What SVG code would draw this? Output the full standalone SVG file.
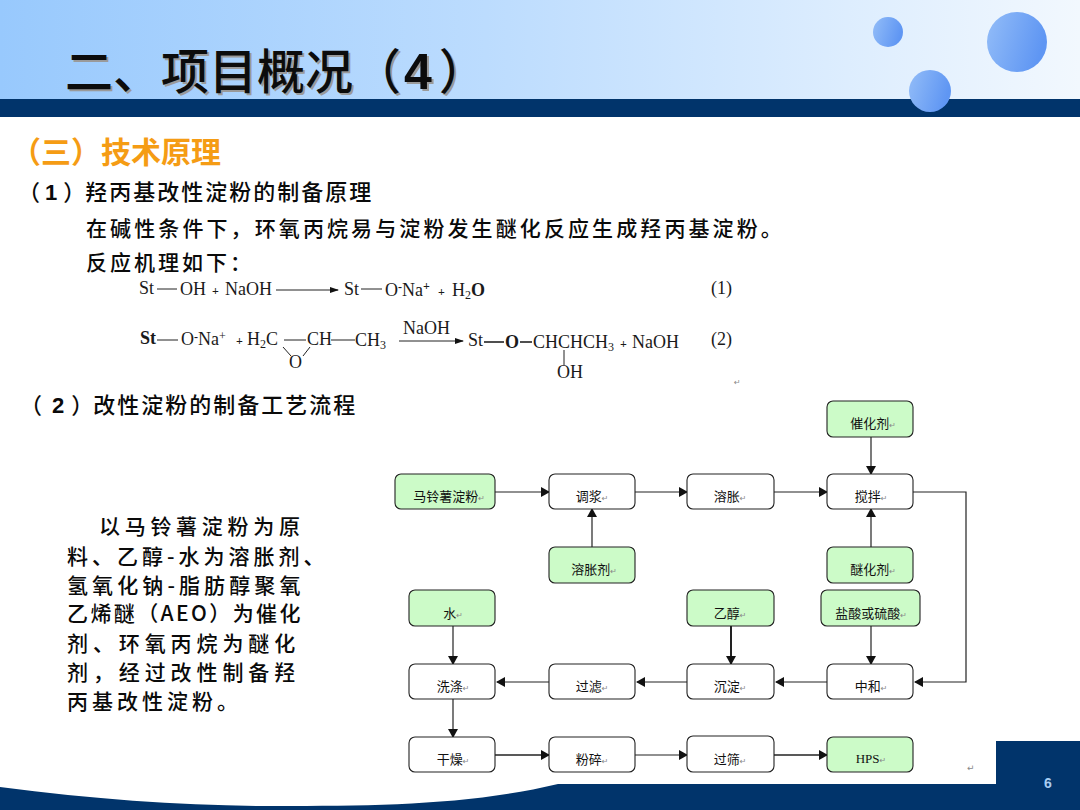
<svg xmlns="http://www.w3.org/2000/svg" width="1080" height="810" viewBox="0 0 1080 810">
<style>
.cjk{font-family:"Noto Sans CJK SC","Noto Sans",sans-serif}
.body{font-family:"Noto Sans CJK SC","Noto Sans",sans-serif;font-size:21px;fill:#0a0a0a;font-weight:500}
.lat{font-family:"Liberation Sans",sans-serif;font-weight:bold}
.f{font-family:"Liberation Serif","Noto Sans CJK SC",serif;font-size:18px;fill:#1a1a1a}
.bd{font-weight:bold}
.sub{font-size:12px}
.pl{font-size:12px;font-weight:bold}
.n rect{stroke:#222;stroke-width:1.1}
.w rect{fill:#fff}
.g rect{fill:#ccfbc8}
.n text{font-family:"Noto Sans CJK SC","Noto Sans",sans-serif;font-size:13px;fill:#111;text-anchor:middle}
.n .hps{font-family:"Liberation Serif",serif}
.r{font-family:"DejaVu Sans",sans-serif;font-size:8px;fill:#888}
.c line,.c polyline{stroke:#222;stroke-width:1.2;fill:none;marker-end:url(#a)}
.b{stroke:#222;stroke-width:1;fill:none}
.bb{stroke:#222;stroke-width:1.6;fill:none}
</style>
<defs>
<linearGradient id="hd" x1="0" x2="1" y1="0" y2="0"><stop offset="0" stop-color="#98c9fd"/><stop offset="0.45" stop-color="#bcdcfe"/><stop offset="1" stop-color="#f2f8fe"/></linearGradient>
<linearGradient id="bl" x1="0" x2="1" y1="0" y2="0.3"><stop offset="0" stop-color="#93bdf8"/><stop offset="1" stop-color="#5f96f3"/></linearGradient>
<marker id="a" markerUnits="userSpaceOnUse" markerWidth="9" markerHeight="10" refX="8" refY="5" orient="auto"><path d="M0 0L9 5L0 10Z" fill="#111"/></marker>
<marker id="fa" markerUnits="userSpaceOnUse" markerWidth="9" markerHeight="6" refX="8" refY="3" orient="auto"><path d="M0 0L9 3L0 6Z" fill="#111"/></marker>
</defs>

<rect x="0" y="0" width="1080" height="99" fill="url(#hd)"/>
<rect x="0" y="99" width="1080" height="18" fill="#01346b"/>
<circle cx="888" cy="32" r="15" fill="url(#bl)"/>
<circle cx="1017" cy="42" r="30" fill="url(#bl)"/>
<circle cx="930" cy="91" r="21" fill="url(#bl)"/>

<path d="M0 787C100 800 190 806 275 806C380 806 470 805 558 784L996 784L996 741L1080 741L1080 810L0 810Z" fill="#01346b"/>
<text x="1048" y="788" font-family="Liberation Sans,sans-serif" font-size="14" font-weight="bold" fill="#a9cdf2" text-anchor="middle">6</text>

<text x="65" y="89" font-size="48" class="cjk" fill="#9a9a9a" transform="translate(2 2)" font-weight="500">二、项目概况（<tspan class="lat" dx="3" font-size="50">4</tspan><tspan dx="7">）</tspan></text>
<text x="65" y="89" font-size="48" class="cjk" fill="#0c0c0c" font-weight="500">二、项目概况（<tspan class="lat" dx="3" font-size="50">4</tspan><tspan dx="7">）</tspan></text>

<text x="11" y="163" font-size="30" class="cjk" font-weight="700" fill="#f59c14">（三）技术原理</text>
<text x="18" y="200" class="body" style="font-size:22px">（<tspan class="lat" dx="5">1</tspan><tspan dx="6">）</tspan><tspan letter-spacing="2">羟丙基改性淀粉的制备原理</tspan></text>
<text x="86" y="236" class="body" letter-spacing="3.1">在碱性条件下，环氧丙烷易与淀粉发生醚化反应生成羟丙基淀粉。</text>
<text x="86" y="270" class="body" letter-spacing="3">反应机理如下：</text>
<text x="20" y="413" class="body" style="font-size:22px">（<tspan class="lat" dx="10">2</tspan><tspan dx="7">）</tspan><tspan letter-spacing="2">改性淀粉的制备工艺流程</tspan></text>

<g class="body">
<text x="99" y="534" letter-spacing="4.7">以马铃薯淀粉为原</text>
<text x="67" y="564" letter-spacing="4">料、乙醇-水为溶胀剂、</text>
<text x="67" y="593" letter-spacing="4.1">氢氧化钠-脂肪醇聚氧</text>
<text x="67" y="621" letter-spacing="2.4">乙烯醚（AEO）为催化</text>
<text x="67" y="651" letter-spacing="4.9">剂、环氧丙烷为醚化</text>
<text x="67" y="680" letter-spacing="4.9">剂，经过改性制备羟</text>
<text x="67" y="709" letter-spacing="4">丙基改性淀粉。</text>
</g>

<g id="formula1">
<text class="f" x="139" y="294">St</text><line class="b" x1="157" y1="289" x2="177" y2="289"/>
<text class="f" x="180" y="295">OH</text><text class="f pl" x="212" y="295">+</text><text class="f" x="225" y="295">NaOH</text>
<line class="b" x1="276" y1="290" x2="338" y2="290" marker-end="url(#fa)"/>
<text class="f" x="344" y="295">St</text><line class="b" x1="361" y1="289" x2="382" y2="289"/>
<text class="f" x="385" y="296">O<tspan class="sub bd" dy="-5">-</tspan><tspan dy="5">Na</tspan><tspan class="sub bd" dy="-6">+</tspan></text>
<text class="f pl" x="438" y="296">+</text>
<text class="f" x="452" y="296">H<tspan class="sub" dy="3">2</tspan><tspan dy="-3" class="bd">O</tspan></text>
<text class="f" x="711" y="294">(1)</text>
</g>
<g id="formula2">
<text class="f bd" x="140" y="344">St</text><line class="b" x1="157" y1="340" x2="178" y2="340"/>
<text class="f" x="181" y="345">O<tspan class="sub bd" dy="-4">-</tspan><tspan dy="4">Na</tspan><tspan class="sub" dy="-5">+</tspan></text>
<text class="f pl" x="236" y="345">+</text>
<text class="f" x="247" y="345">H<tspan class="sub" dy="3">2</tspan><tspan dy="-3">C</tspan></text>
<line class="b" x1="284" y1="340" x2="306" y2="340"/>
<text class="f" x="307" y="345">CH</text><line class="b" x1="331" y1="340" x2="355" y2="340"/>
<text class="f" x="355" y="346">CH<tspan class="sub" dy="3">3</tspan></text>
<line class="b" x1="283" y1="347" x2="291" y2="356"/><line class="b" x1="310" y1="347" x2="303" y2="356"/>
<text class="f" x="289" y="368">O</text>
<text class="f" x="403" y="334">NaOH</text>
<line class="b" x1="399" y1="341" x2="463" y2="341" marker-end="url(#fa)"/>
<text class="f" x="468" y="346">St</text><line class="bb" x1="484" y1="342" x2="504" y2="342"/>
<text class="f" x="505" y="348" font-weight="bold">O</text><line class="bb" x1="520" y1="342" x2="532" y2="342"/>
<text class="f" x="533" y="348">CHCHCH<tspan class="sub" dy="3">3</tspan></text>
<text class="f pl" x="620" y="348">+</text>
<text class="f" x="632" y="348">NaOH</text>
<line class="b" x1="564" y1="350" x2="564" y2="365"/>
<text class="f" x="557" y="378">OH</text>
<text class="f" x="711" y="345">(2)</text>
</g>
<text class="r" x="734" y="385">↵</text>

<g id="connectors" class="c">
<line x1="495" y1="492" x2="549" y2="492"/>
<line x1="635" y1="492" x2="687" y2="492"/>
<line x1="774" y1="492" x2="827" y2="492"/>
<line x1="871" y1="437" x2="871" y2="474"/>
<line x1="592" y1="547" x2="592" y2="509"/>
<line x1="871" y1="547" x2="871" y2="509"/>
<polyline points="913,492 966,492 966,682 915,682"/>
<line x1="871" y1="626" x2="871" y2="664"/>
<line x1="731" y1="626" x2="731" y2="664" style="stroke-width:2"/>
<line x1="453" y1="626" x2="453" y2="664"/>
<line x1="827" y1="682" x2="776" y2="682"/>
<line x1="687" y1="682" x2="637" y2="682"/>
<line x1="549" y1="682" x2="497" y2="682"/>
<line x1="453" y1="699" x2="453" y2="737"/>
<line x1="495" y1="755" x2="549" y2="755" style="stroke-width:1.6"/>
<line x1="635" y1="755" x2="687" y2="755"/>
<line x1="774" y1="755" x2="827" y2="755" style="stroke-width:1.6"/>
</g>

<g id="n1" class="n g"><rect x="395" y="474" width="100" height="35" rx="6"/><text x="449" y="501">马铃薯淀粉<tspan class="r">↵</tspan></text></g>
<g id="n2" class="n w"><rect x="549" y="474" width="86" height="35" rx="6"/><text x="592" y="501">调浆<tspan class="r">↵</tspan></text></g>
<g id="n3" class="n w"><rect x="687" y="474" width="87" height="35" rx="6"/><text x="730" y="501">溶胀<tspan class="r">↵</tspan></text></g>
<g id="n4" class="n w"><rect x="827" y="474" width="86" height="35" rx="6"/><text x="871" y="501">搅拌<tspan class="r">↵</tspan></text></g>
<g id="n5" class="n g"><rect x="827" y="401" width="86" height="36" rx="6"/><text x="873" y="428">催化剂<tspan class="r">↵</tspan></text></g>
<g id="n6" class="n g"><rect x="549" y="547" width="86" height="36" rx="6"/><text x="594" y="574">溶胀剂<tspan class="r">↵</tspan></text></g>
<g id="n7" class="n g"><rect x="827" y="547" width="86" height="36" rx="6"/><text x="873" y="574">醚化剂<tspan class="r">↵</tspan></text></g>
<g id="n8" class="n g"><rect x="409" y="590" width="86" height="36" rx="6"/><text x="453" y="618">水<tspan class="r">↵</tspan></text></g>
<g id="n9" class="n g"><rect x="687" y="590" width="87" height="36" rx="6"/><text x="730" y="618">乙醇<tspan class="r">↵</tspan></text></g>
<g id="n10" class="n g"><rect x="821" y="590" width="99" height="36" rx="6"/><text x="871" y="618">盐酸或硫酸<tspan class="r">↵</tspan></text></g>
<g id="n11" class="n w"><rect x="409" y="664" width="86" height="35" rx="6"/><text x="453" y="691">洗涤<tspan class="r">↵</tspan></text></g>
<g id="n12" class="n w"><rect x="549" y="664" width="86" height="35" rx="6"/><text x="592" y="691">过滤<tspan class="r">↵</tspan></text></g>
<g id="n13" class="n w"><rect x="687" y="664" width="87" height="35" rx="6"/><text x="730" y="691">沉淀<tspan class="r">↵</tspan></text></g>
<g id="n14" class="n w"><rect x="827" y="664" width="86" height="35" rx="6"/><text x="871" y="691">中和<tspan class="r">↵</tspan></text></g>
<g id="n15" class="n w"><rect x="409" y="737" width="86" height="35" rx="6"/><text x="453" y="764">干燥<tspan class="r">↵</tspan></text></g>
<g id="n16" class="n w"><rect x="549" y="737" width="86" height="35" rx="6"/><text x="592" y="764">粉碎<tspan class="r">↵</tspan></text></g>
<g id="n17" class="n w"><rect x="687" y="736" width="87" height="36" rx="6"/><text x="730" y="764">过筛<tspan class="r">↵</tspan></text></g>
<g id="n18" class="n g"><rect x="827" y="737" width="86" height="35" rx="6"/><text x="871" y="763"><tspan class="hps">HPS</tspan><tspan class="r">↵</tspan></text></g>
<text class="r" x="967" y="771" style="font-size:9px">↵</text>
</svg>
